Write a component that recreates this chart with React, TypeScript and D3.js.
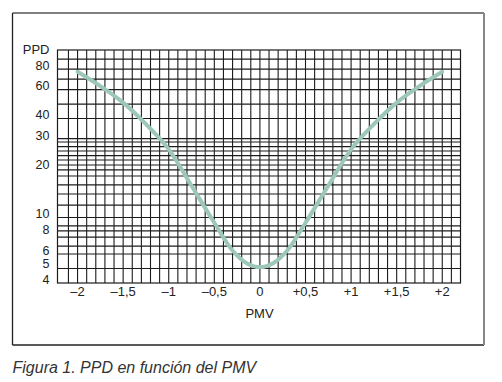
import React from "react";
import * as d3 from "d3";

// PMV values and PPD values
const pmvValues = [-2, -1.75, -1.5, -1.25, -1, -0.75, -0.5, -0.3, -0.15, 0, 0.15, 0.3, 0.5, 0.75, 1, 1.25, 1.5, 1.75, 2];
const ppdValues = [77, 63, 50, 37, 26, 15.6, 9.3, 6.3, 5.3, 5, 5.3, 6.3, 9.3, 15.6, 26, 37, 50, 63, 77];

// x tick labels
const xTickValues = [-2, -1.5, -1, -0.5, 0, 0.5, 1, 1.5, 2];
const xTickLabels = ["–2", "–1,5", "–1", "–0,5", "0", "+0,5", "+1", "+1,5", "+2"];

// y tick labels
const yTickValues = [80, 60, 40, 30, 20, 10, 8, 6, 5, 4];
const yTickLabels = ["80", "60", "40", "30", "20", "10", "8", "6", "5", "4"];

// printed grid lines (PPD units)
const yGridValues = [92, 80, 69.5, 60, 49, 40, 30.2, 28.8, 27, 25.4, 23.8, 22.4, 20.9, 19.5, 17.9, 15.8, 13.9, 11.9, 10, 8.9, 8.3, 7.6, 6.7, 6, 4.9];
// vertical grid lines (PMV units)
const xGridValues = [
  -2.1, -2, -1.9, -1.8, -1.7, -1.6, -1.5, -1.4, -1.3, -1.2, -1.1, -1, -0.9, -0.8, -0.7, -0.6, -0.5, -0.4, -0.3, -0.2, -0.1,
  0, 0.1, 0.2, 0.3, 0.4, 0.5, 0.6, 0.7, 0.8, 0.9, 1, 1.1, 1.2, 1.3, 1.4, 1.5, 1.6, 1.7, 1.8, 1.9, 2, 2.1,
];

const W = 502;
const H = 382;
const L = 57.5;
const R = 460.5;
const T = 50;
const B = 283;

export default function App() {
  const x = d3.scaleLinear().domain([-2.22, 2.2]).range([L, R]);
  const y = d3.scaleLog().domain([4, 104.5]).range([B, T]);
  const line = d3
    .line<number>()
    .x((_, i) => x(pmvValues[i]))
    .y((d) => y(d))
    .curve(d3.curveCatmullRom.alpha(0.5));
  const font = "Liberation Sans, Arial, sans-serif";
  const gridColor = "#1c1c1c";
  return (
    <svg
      width={W}
      height={H}
      style={{ position: "absolute", left: 0, top: 0, background: "#fff" }}
      fontFamily={font}
    >
      <rect x={0} y={0} width={W} height={H} fill="#fff" />
      {/* outer frame */}
      <line x1={12.5} y1={13} x2={484} y2={13} stroke="#555" strokeWidth={1.3} />
      <line x1={12.5} y1={13} x2={12.5} y2={345} stroke="#222" strokeWidth={1.3} />
      <line x1={12.5} y1={345} x2={484} y2={345} stroke="#222" strokeWidth={1.3} />
      <line x1={484} y1={13} x2={484} y2={345} stroke="#888" strokeWidth={2} />

      {/* grid */}
      {xGridValues.map((v, i) => (
        <line key={"vx" + i} x1={x(v)} x2={x(v)} y1={T} y2={B} stroke={gridColor} strokeWidth={1.1} />
      ))}
      {yGridValues.map((v, i) => (
        <line key={"hy" + i} x1={L} x2={R} y1={y(v)} y2={y(v)} stroke={gridColor} strokeWidth={1.1} />
      ))}
      <rect x={L} y={T} width={R - L} height={B - T} fill="none" stroke={gridColor} strokeWidth={1.2} />

      {/* curve */}
      <path d={line(ppdValues) || ""} fill="none" stroke="#9dc8b9" strokeWidth={4} strokeLinecap="round" strokeLinejoin="round" />

      {/* y labels */}
      <text x={49.5} y={49.5} textAnchor="end" dominantBaseline="central" fontSize={13} fill="#222">
        PPD
      </text>
      {yTickValues.map((v, i) => (
        <text
          key={"yt" + i}
          x={49.5}
          y={y(v) - 3.5}
          textAnchor="end"
          dominantBaseline="central"
          fontSize={12.5}
          fill="#222"
        >
          {yTickLabels[i]}
        </text>
      ))}

      {/* x labels */}
      {xTickValues.map((v, i) => (
        <text key={"xt" + i} x={x(v)} y={296} textAnchor="middle" fontSize={13} fill="#222">
          {xTickLabels[i]}
        </text>
      ))}
      <text x={259.5} y={318.3} textAnchor="middle" fontSize={13} fill="#222">
        PMV
      </text>

      {/* caption */}
      <text x={12.5} y={372.5} fontSize={16} fontStyle="italic" fill="#333">
        Figura 1. PPD en función del PMV
      </text>
    </svg>
  );
}
